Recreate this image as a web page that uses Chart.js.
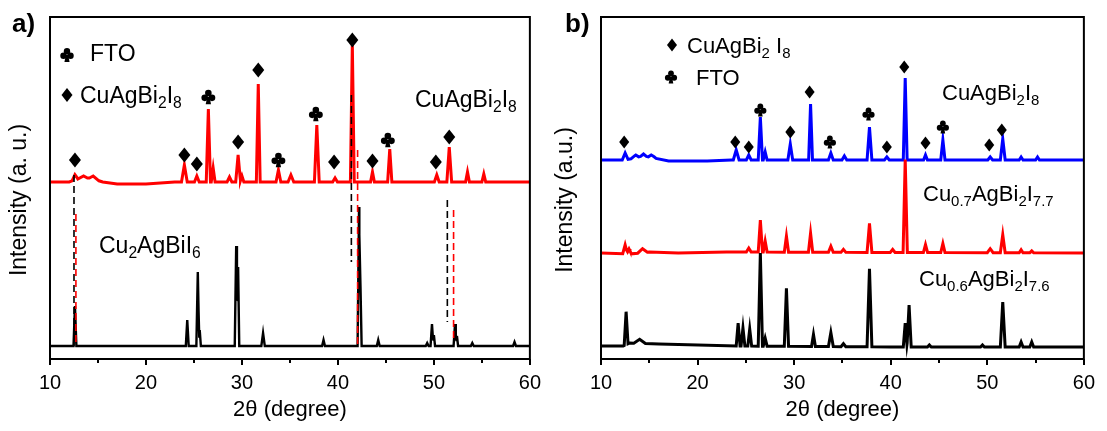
<!DOCTYPE html>
<html lang="en">
<head>
<meta charset="UTF-8">
<title>XRD patterns</title>
<style>
  html, body { margin: 0; padding: 0; background: #fff; }
  #wrap { position: relative; width: 1107px; height: 431px; }
  .panel { position: absolute; top: 0; height: 431px; }
  #boxA { left: 0; width: 553px; }
  #boxB { left: 553px; width: 554px; }
</style>
<script src="https://cdn.jsdelivr.net/npm/chart.js"></script>
</head>
<body>
<div id="wrap">
  <div class="panel" id="boxA"><canvas id="chartA"></canvas></div>
  <div class="panel" id="boxB"><canvas id="chartB"></canvas></div>
</div>
<script>
// x axis
const xMin = 10, xMax = 60, xStep = 5;

// panel a) red: CuAgBi2I8 film (peak 2theta, height, half width)
const aRedPos = [12.6, 13.5, 14.5, 24.0, 25.3, 26.5, 27.0, 28.7, 29.6, 30.0, 31.7, 33.8, 35.1, 37.8, 39.7, 41.5, 43.6, 45.4, 50.3, 51.6, 53.5, 55.2];
const aRedInt = [5, 3, 3, 17, 6, 73, 14, 5, 27, 6, 98, 12, 7, 57, 4, 138, 10, 33, 7, 35, 10, 8];
const aRedWid = [0.3, 0.6, 0.6, 0.3, 0.25, 0.22, 0.2, 0.25, 0.25, 0.2, 0.2, 0.25, 0.3, 0.25, 0.25, 0.2, 0.2, 0.22, 0.25, 0.25, 0.2, 0.2];
// slowly varying background under it (2theta, level)
const aRedBgX = [10, 12, 12.8, 14.5, 15.5, 17, 20, 23, 60];
const aRedBgY = [0, 0, 3, 3, 0, -2, -2, 0, 0];

// panel a) black: Cu2AgBiI6 reference
const aBlackPos = [12.6, 24.3, 25.4, 25.6, 29.4, 29.6, 32.2, 38.5, 42.2, 42.35, 44.2, 49.3, 49.8, 50.0, 52.2, 52.4, 54.0, 58.4];
const aBlackInt = [40, 26, 74, 16, 100, 79, 13, 6, 139, 60, 6, 3, 22, 11, 22, 10, 3, 4];
const aBlackWid = [0.15, 0.15, 0.15, 0.12, 0.15, 0.12, 0.18, 0.15, 0.15, 0.12, 0.15, 0.15, 0.15, 0.12, 0.15, 0.12, 0.15, 0.15];

// panel b) blue: CuAgBi2I8
const bBluePos = [12.5, 13.6, 14.4, 15.2, 24.0, 25.3, 26.5, 27.0, 29.6, 31.7, 33.8, 35.2, 37.8, 39.6, 41.5, 43.6, 45.4, 50.3, 51.6, 53.5, 55.2];
const bBlueInt = [7, 3, 4, 3, 10, 5, 43, 8, 16, 56, 7, 4, 33, 3, 82, 5, 20, 3, 21, 3, 3];
const bBlueWid = [0.3, 0.5, 0.5, 0.5, 0.3, 0.25, 0.22, 0.2, 0.25, 0.2, 0.25, 0.25, 0.25, 0.25, 0.2, 0.2, 0.22, 0.25, 0.25, 0.2, 0.2];
const bBlueBgX = [10, 12.5, 13.5, 15.5, 17, 21, 23.5, 60];
const bBlueBgY = [0, 0, 2, 2, -1, -1, 0, 0];

// panel b) red: Cu0.7AgBi2I7.7
const bRedPos = [12.5, 12.9, 14.3, 25.3, 26.5, 27.0, 29.2, 31.7, 33.8, 35.1, 37.8, 40.2, 41.5, 43.6, 45.4, 50.3, 51.6, 53.5, 54.6];
const bRedInt = [9, 5, 4, 4, 32, 11, 16, 19, 6, 3, 29, 3, 93, 8, 9, 4, 18, 3, 2];
const bRedWid = [0.25, 0.25, 0.5, 0.25, 0.22, 0.2, 0.22, 0.22, 0.25, 0.25, 0.25, 0.25, 0.22, 0.22, 0.22, 0.3, 0.25, 0.2, 0.2];
const bRedBgX = [10, 13, 15, 18, 23, 60];
const bRedBgY = [0, -1, 1, 0, 1, 0];

// panel b) black: Cu0.6AgBi2I7.6
const bBlackPos = [12.6, 14.0, 24.2, 24.7, 25.4, 26.5, 27.0, 29.2, 32.0, 33.8, 35.1, 37.8, 41.5, 41.9, 44.0, 49.5, 51.6, 53.5, 54.6];
const bBlackInt = [33, 4, 23, 18, 17, 93, 8, 58, 12, 14, 3, 78, 24, 42, 2, 2, 45, 5, 5];
const bBlackWid = [0.2, 0.6, 0.2, 0.2, 0.2, 0.22, 0.2, 0.22, 0.2, 0.25, 0.25, 0.25, 0.2, 0.22, 0.2, 0.2, 0.25, 0.2, 0.2];
const bBlackBgX = [10, 12.3, 13, 16, 24, 40, 60];
const bBlackBgY = [0, 0, 3, 2, 0, -1, -1];

// vertical stacking of the patterns
const aShift = [177, 13];          // red, black
const bShift = [199, 106, 13];     // blue, red, black

// phase markers: d = CuAgBi2I8 (diamond), c = FTO (club)
const aMarkX = [12.6, 24.0, 25.3, 26.5, 29.6, 31.7, 33.8, 37.7, 39.6, 41.5, 43.6, 45.2, 50.2, 51.6];
const aMarkY = [199, 204, 195, 262, 217, 289, 199, 245, 197, 319, 198, 219, 197, 222];
const aMarkSym = ['d', 'd', 'd', 'c', 'd', 'd', 'c', 'c', 'd', 'd', 'd', 'c', 'd', 'd'];
const bMarkX = [12.4, 23.9, 25.3, 26.5, 29.6, 31.6, 33.7, 37.7, 39.6, 41.4, 43.6, 45.4, 50.2, 51.5];
const bMarkY = [217, 217, 212, 249, 227, 267, 217, 245, 212, 292, 216, 232, 214, 229];
const bMarkSym = ['d', 'd', 'd', 'c', 'd', 'd', 'c', 'c', 'd', 'd', 'd', 'c', 'd', 'd'];

// dashed guide lines in panel a)
const dashX = [12.5, 12.7, 41.4, 42.05, 51.4, 52.05];
const dashTop = [184, 145, 264, 209, 159, 149];
const dashBottom = [13, 13, 97, 13, 37, 19];
const dashColor = ['#000', '#f00', '#000', '#f00', '#000', '#f00'];

const FONT = '"Liberation Sans", Arial, sans-serif';

// background value at x (piecewise linear through the read points)
function bgAt(bx, by, x) {
  if (!bx) return 0;
  for (let i = 1; i < bx.length; i++) {
    if (x <= bx[i]) return by[i - 1] + (by[i] - by[i - 1]) * (x - bx[i - 1]) / (bx[i] - bx[i - 1]);
  }
  return by[by.length - 1];
}

// sum of triangular peaks on the background, evaluated at every vertex
function pattern(pos, inten, wid, shift, bx, by) {
  const xs = [xMin, xMax].concat(bx || []);
  pos.forEach((p, i) => xs.push(p - wid[i], p, p + wid[i]));
  xs.sort((a, b) => a - b);
  return xs.filter(x => x >= xMin && x <= xMax).map(x => {
    let y = bgAt(bx, by, x);
    pos.forEach((p, i) => {
      const d = Math.abs(x - p) / wid[i];
      if (d < 1) y += inten[i] * (1 - d);
    });
    return { x: x, y: y + shift };
  });
}

function line(data, color, w) {
  return { data: data, borderColor: color, borderWidth: w, pointRadius: 0, fill: false, tension: 0 };
}

// text with subscripts: parts = [[text, isSub], ...]
function rich(ctx, parts, x, yMid, size) {
  let cx = x;
  const base = yMid + size * 0.36;
  ctx.textBaseline = 'alphabetic';
  ctx.textAlign = 'left';
  ctx.fillStyle = '#000';
  parts.forEach(([t, sub]) => {
    const fs = sub ? size * 0.68 : size;
    ctx.font = fs + 'px ' + FONT;
    ctx.fillText(t, cx, sub ? base + size * 0.22 : base);
    cx += ctx.measureText(t).width;
  });
}

function diamond(ctx, x, y, hw, hh) {
  ctx.beginPath();
  ctx.moveTo(x, y - hh);
  ctx.lineTo(x + hw, y);
  ctx.lineTo(x, y + hh);
  ctx.lineTo(x - hw, y);
  ctx.closePath();
  ctx.fill();
}

function club(ctx, x, y, r) {
  const y0 = y - 0.1 * r;
  [[0, -1.1 * r], [-1.1 * r, 0.35 * r], [1.1 * r, 0.35 * r]].forEach(([dx, dy]) => {
    ctx.beginPath();
    ctx.arc(x + dx, y0 + dy, r, 0, Math.PI * 2);
    ctx.fill();
  });
  ctx.beginPath();
  ctx.moveTo(x - 0.35 * r, y0);
  ctx.lineTo(x + 0.35 * r, y0);
  ctx.lineTo(x + 0.8 * r, y0 + 2.3 * r);
  ctx.lineTo(x - 0.8 * r, y0 + 2.3 * r);
  ctx.closePath();
  ctx.fill();
}

function frame(chart, ctx) {
  const a = chart.chartArea, xs = chart.scales.x;
  ctx.save();
  ctx.strokeStyle = '#000';
  ctx.lineWidth = 2;
  ctx.strokeRect(a.left, a.top, a.right - a.left, a.bottom - a.top);
  for (let v = xMin; v <= xMax; v += xStep) {
    const px = Math.round(xs.getPixelForValue(v));
    ctx.beginPath();
    ctx.moveTo(px, a.bottom);
    ctx.lineTo(px, a.bottom + (v % 10 === 0 ? 6 : 4));
    ctx.stroke();
  }
  ctx.fillStyle = '#000';
  ctx.font = '22px ' + FONT;
  ctx.textAlign = 'center';
  ctx.textBaseline = 'middle';
  ctx.fillText('2\u03b8 (degree)', (a.left + a.right) / 2, 410);
  ctx.restore();
}

function marks(chart, ctx, mx, my, sym, dw, dh, cr) {
  const xs = chart.scales.x, ys = chart.scales.y;
  ctx.save();
  ctx.fillStyle = '#000';
  mx.forEach((v, i) => {
    const px = xs.getPixelForValue(v), py = ys.getPixelForValue(my[i]);
    if (sym[i] === 'd') diamond(ctx, px, py, dw, dh);
    else club(ctx, px, py, cr);
  });
  ctx.restore();
}

function yTitle(ctx, text, x, y) {
  ctx.save();
  ctx.translate(x, y);
  ctx.rotate(-Math.PI / 2);
  ctx.fillStyle = '#000';
  ctx.font = '23px ' + FONT;
  ctx.textAlign = 'center';
  ctx.textBaseline = 'middle';
  ctx.fillText(text, 0, 0);
  ctx.restore();
}

const annotA = {
  id: 'annotA',
  afterDatasetsDraw(chart) {
    const ctx = chart.ctx, xs = chart.scales.x, ys = chart.scales.y;
    ctx.save();
    ctx.lineWidth = 1.6;
    ctx.setLineDash([7, 4]);
    dashX.forEach((v, i) => {
      const px = xs.getPixelForValue(v);
      ctx.strokeStyle = dashColor[i];
      ctx.beginPath();
      ctx.moveTo(px, ys.getPixelForValue(dashTop[i]));
      ctx.lineTo(px, ys.getPixelForValue(dashBottom[i]));
      ctx.stroke();
    });
    ctx.restore();
    frame(chart, ctx);
    marks(chart, ctx, aMarkX, aMarkY, aMarkSym, 6, 7.5, 3.3);
    ctx.save();
    ctx.fillStyle = '#000';
    ctx.font = 'bold 26px ' + FONT;
    ctx.textAlign = 'left';
    ctx.textBaseline = 'middle';
    ctx.fillText('a)', 12, 25);
    club(ctx, 67, 55, 3.2);
    diamond(ctx, 67, 95, 5.5, 7);
    ctx.restore();
    rich(ctx, [['FTO', false]], 90, 53, 23);
    rich(ctx, [['CuAgBi', false], ['2', true], ['I', false], ['8', true]], 80, 95, 23);
    rich(ctx, [['CuAgBi', false], ['2', true], ['I', false], ['8', true]], 415, 99, 23);
    rich(ctx, [['Cu', false], ['2', true], ['AgBiI', false], ['6', true]], 99, 245, 23);
    yTitle(ctx, 'Intensity (a. u.)', 20, 200);
  }
};

const annotB = {
  id: 'annotB',
  afterDatasetsDraw(chart) {
    const ctx = chart.ctx;
    frame(chart, ctx);
    marks(chart, ctx, bMarkX, bMarkY, bMarkSym, 5, 6.5, 2.9);
    ctx.save();
    ctx.fillStyle = '#000';
    ctx.font = 'bold 26px ' + FONT;
    ctx.textAlign = 'left';
    ctx.textBaseline = 'middle';
    ctx.fillText('b)', 12, 25);
    diamond(ctx, 119, 45, 5, 6.5);
    club(ctx, 118, 77, 2.9);
    ctx.restore();
    rich(ctx, [['CuAgBi', false], ['2', true], [' I', false], ['8', true]], 134, 45, 22);
    rich(ctx, [['FTO', false]], 143, 77, 22);
    rich(ctx, [['CuAgBi', false], ['2', true], ['I', false], ['8', true]], 389, 92, 22);
    rich(ctx, [['Cu', false], ['0.7', true], ['AgBi', false], ['2', true], ['I', false], ['7.7', true]], 370, 193, 22);
    rich(ctx, [['Cu', false], ['0.6', true], ['AgBi', false], ['2', true], ['I', false], ['7.6', true]], 366, 278, 22);
    yTitle(ctx, 'Intensity (a.u.)', 13, 200);
  }
};

function makeChart(id, datasets, padLeft, padRight, annot) {
  return new Chart(document.getElementById(id), {
    type: 'line',
    data: { datasets: datasets },
    options: {
      responsive: true,
      maintainAspectRatio: false,
      animation: false,
      layout: { padding: { left: padLeft, right: padRight, top: 17, bottom: 0 } },
      plugins: { legend: { display: false }, tooltip: { enabled: false } },
      scales: {
        x: {
          type: 'linear', min: xMin, max: xMax,
          grid: { display: false, drawTicks: false },
          border: { display: false },
          ticks: {
            stepSize: xStep, autoSkip: false, maxRotation: 0, padding: 12, color: '#000',
            font: { family: FONT, size: 20 },
            callback: v => (v % 10 === 0 ? v : '')
          },
          afterFit: s => { s.height = 72; }
        },
        y: { display: false, min: 0, max: 342 }
      }
    },
    plugins: [annot]
  });
}

makeChart('chartA', [
  line(pattern(aBlackPos, aBlackInt, aBlackWid, aShift[1]), '#000', 2.4),
  line(pattern(aRedPos, aRedInt, aRedWid, aShift[0], aRedBgX, aRedBgY), '#ff0000', 3)
], 50, 17, annotA);

makeChart('chartB', [
  line(pattern(bBlackPos, bBlackInt, bBlackWid, bShift[2], bBlackBgX, bBlackBgY), '#000', 3),
  line(pattern(bRedPos, bRedInt, bRedWid, bShift[1], bRedBgX, bRedBgY), '#ff0000', 3),
  line(pattern(bBluePos, bBlueInt, bBlueWid, bShift[0], bBlueBgX, bBlueBgY), '#0000ff', 3)
], 48, 19, annotB);
</script>
</body>
</html>
